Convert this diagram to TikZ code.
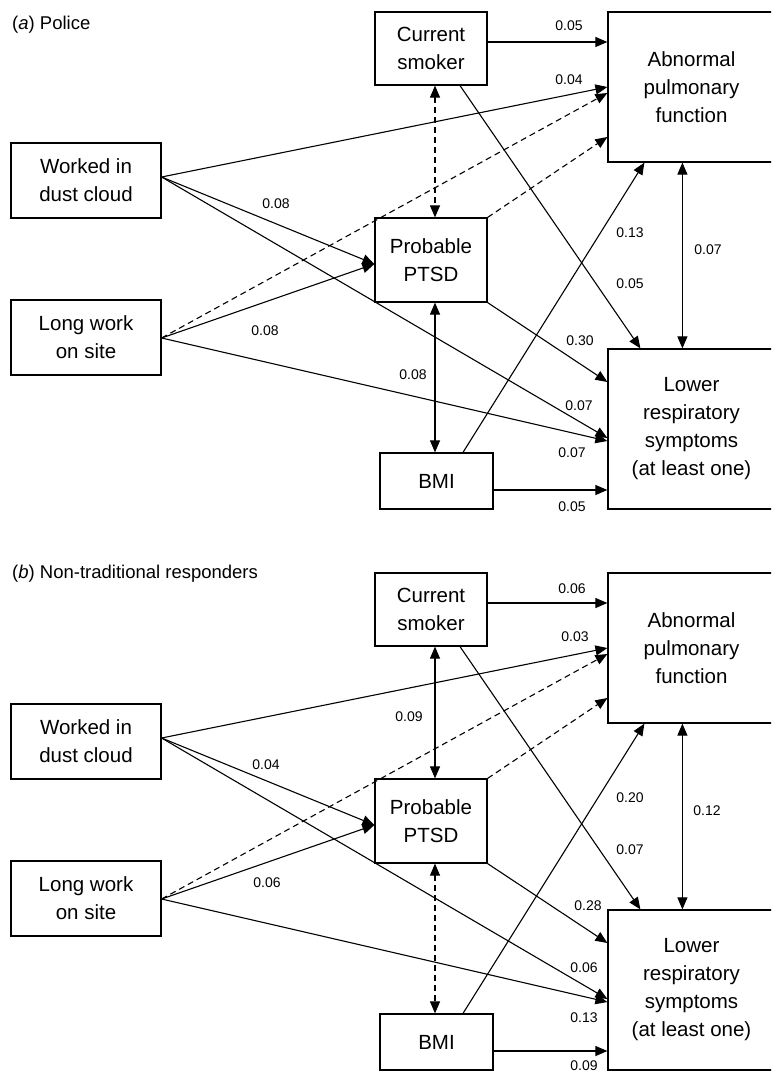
\documentclass[tikz,border=0pt]{standalone}
\usepackage{fontspec}
\setmainfont{Liberation Sans}
\usetikzlibrary{arrows.meta}
\tikzset{
 box/.style={draw, line width=1.2pt, inner sep=0pt, align=center, font=\fontsize{20.5}{28}\selectfont},
 conn/.style={line width=1.1pt},
 arr/.style={conn, -{Triangle[length=12pt,width=10pt]}},
 darr/.style={conn, {Triangle[length=12pt,width=10pt]}-{Triangle[length=12pt,width=10pt]}},
 dsh/.style={dash pattern=on 6pt off 4pt},
 lbl/.style={font=\fontsize{14}{16}\selectfont, inner sep=0pt},
 ttl/.style={font=\fontsize{18.5}{22}\selectfont, anchor=base west, inner sep=0pt},
}
\newcommand{\panelnodes}[1]{%
 \node[box, minimum width=112pt, minimum height=73pt] (#1smk) at (431,48.5) {Current\\smoker};
 \node[box, minimum width=167pt, minimum height=150pt] (#1abn) at (691.5,87) {Abnormal\\pulmonary\\function};
 \node[box, minimum width=150pt, minimum height=75pt] (#1wrk) at (86,180.5) {Worked in\\dust cloud};
 \node[box, minimum width=150pt, minimum height=75pt] (#1lng) at (86,337.5) {Long work\\on site};
 \node[box, minimum width=112pt, minimum height=84pt] (#1pts) at (431,260) {Probable\\PTSD};
 \node[box, minimum width=113pt, minimum height=56pt] (#1bmi) at (436.5,481) {BMI};
 \node[box, minimum width=167pt, minimum height=160pt] (#1low) at (691.5,429) {Lower\\respiratory\\symptoms\\(at least one)};
 \draw[arr] ([yshift=6.5pt]#1smk.east) -- ([yshift=45pt]#1abn.west);
 \draw[arr] ([yshift=3.5pt]#1wrk.east) -- (#1abn.west);
 \draw[arr,dsh] ([yshift=-0.5pt]#1lng.east) -- ([yshift=-6pt]#1abn.west);
 \draw[arr,dsh] (#1pts.north east) -- ([yshift=-50pt]#1abn.west);
 \draw[arr] ([xshift=29pt]#1smk.south) -- ([xshift=33pt]#1low.north west);
 \draw[darr] ([xshift=75pt]#1abn.south west) -- ([xshift=75pt]#1low.north west);
 \draw[arr] ([xshift=26.5pt]#1bmi.north) -- ([xshift=37pt]#1abn.south west);
 \draw[arr] (#1pts.south east) -- ([yshift=47pt]#1low.west);
 \draw[arr] ([yshift=3.5pt]#1wrk.east) -- ([yshift=-4pt]#1pts.west);
 \draw[arr] ([yshift=3.5pt]#1wrk.east) -- ([yshift=-9pt]#1low.west);
 \draw[arr] ([yshift=-0.5pt]#1lng.east) -- ([yshift=-4pt]#1pts.west);
 \draw[arr] ([yshift=-0.5pt]#1lng.east) -- ([yshift=-12pt]#1low.west);
 \draw[arr] ([yshift=-9pt]#1bmi.east) -- ([yshift=-61pt]#1low.west);
}
\begin{document}
\begin{tikzpicture}[x=1pt,y=-1pt]
\useasboundingbox (0,0) rectangle (771,1075);
\clip (0,0) rectangle (771,1075);
% panel a
\node[ttl] (ta) at (12,30) {(\textit{a}) Police};
\panelnodes{a}
\draw[darr,dsh] ([xshift=4pt]asmk.south) -- ([xshift=4pt]apts.north);
\draw[darr] ([xshift=4pt]apts.south) -- ([xshift=-1.5pt]abmi.north);
\node[lbl] (la1) at (569,26) {0.05};
\node[lbl] (la2) at (569,80) {0.04};
\node[lbl] (la3) at (276,204) {0.08};
\node[lbl] (la4) at (630,233) {0.13};
\node[lbl] (la5) at (708,250) {0.07};
\node[lbl] (la6) at (630,284) {0.05};
\node[lbl] (la7) at (265,331) {0.08};
\node[lbl] (la8) at (580,341) {0.30};
\node[lbl] (la9) at (413,375) {0.08};
\node[lbl] (la10) at (579,406) {0.07};
\node[lbl] (la11) at (572,453) {0.07};
\node[lbl] (la12) at (572,507) {0.05};
% panel b
\node[ttl] (tb) at (12,578) {(\textit{b}) Non-traditional responders};
\begin{scope}[shift={(0,561)}]
\panelnodes{b}
\draw[darr] ([xshift=4pt]bsmk.south) -- ([xshift=4pt]bpts.north);
\draw[darr,dsh] ([xshift=4pt]bpts.south) -- ([xshift=-1.5pt]bbmi.north);
\node[lbl] (lb1) at (572,28) {0.06};
\node[lbl] (lb2) at (575,76) {0.03};
\node[lbl] (lb3) at (409,156) {0.09};
\node[lbl] (lb4) at (266,204) {0.04};
\node[lbl] (lb5) at (630,237) {0.20};
\node[lbl] (lb6) at (707,250) {0.12};
\node[lbl] (lb7) at (630,289) {0.07};
\node[lbl] (lb8) at (267,322) {0.06};
\node[lbl] (lb9) at (588,345) {0.28};
\node[lbl] (lb10) at (584,407) {0.06};
\node[lbl] (lb11) at (584,457) {0.13};
\node[lbl] (lb12) at (584,505) {0.09};
\end{scope}
\end{tikzpicture}
\end{document}
